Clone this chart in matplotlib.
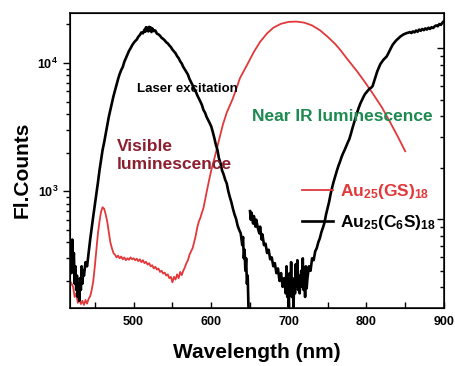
import math
import matplotlib
matplotlib.use('Agg')
import matplotlib.pyplot as plt
from matplotlib.ticker import LogLocator, FuncFormatter, MultipleLocator, NullFormatter

plt.rcParams['font.family'] = ['Liberation Sans', 'DejaVu Sans']
plt.rcParams['font.weight'] = 'bold'
plt.rcParams['mathtext.fontset'] = 'custom'
plt.rcParams['mathtext.rm'] = 'Liberation Sans:bold'
plt.rcParams['mathtext.bf'] = 'Liberation Sans:bold'
plt.rcParams['mathtext.default'] = 'rm'

# Au25(C6S)18, first part (laser line region)
wl_c6s_a = [418, 419, 420, 421, 422, 423, 424, 425, 426, 427, 428, 429, 430, 431, 432, 433, 434, 435,
            436, 438, 440, 442, 444, 446, 448, 450, 452, 454, 456, 458, 460, 462, 464, 466, 468, 470,
            472, 474, 476, 478, 480, 482, 484, 486, 488, 490, 492, 494, 496, 498, 500, 502, 504, 506,
            508, 510, 512, 514, 515, 516, 517, 518, 519, 520, 521, 522, 523, 524, 526, 528, 530, 532,
            534, 536, 538, 540, 542, 544, 546, 548, 550, 552, 554, 556, 558, 560, 562, 564, 566, 568,
            570, 572, 574, 576, 578, 580, 582, 584, 586, 588, 590, 592, 594, 596, 598, 600, 602, 604,
            606, 608, 610, 612, 614, 616, 618, 620, 622, 624, 626, 628, 630, 632, 634, 636, 638, 640,
            641, 642, 643, 644, 645, 646, 647, 648]
cnt_c6s_a = [250, 380, 230, 420, 260, 330, 190, 260, 170, 220, 150, 190, 140, 210, 170, 260, 190, 240,
             220, 280, 260, 330, 420, 520, 640, 780, 940, 1170, 1450, 1750, 2100, 2400, 2800, 3300, 3800, 4300,
             4900, 5500, 6100, 6800, 7500, 8200, 8800, 9300, 10200, 10900, 11700, 12400, 13000, 13700, 14300, 14800, 15200, 16000,
             16500, 17300, 17000, 18200, 17500, 19000, 17800, 18800, 17600, 19100, 17900, 18900, 17400, 18600, 17700, 17900, 16900, 16700,
             16300, 15700, 15400, 15000, 14500, 14200, 13700, 13300, 12700, 12300, 11900, 11300, 10900, 10300, 9900, 9300, 8900, 8500,
             8100, 7500, 7100, 6700, 6300, 6000, 5600, 5300, 5000, 4700, 4300, 4100, 3800, 3600, 3400, 3200, 2900, 2600,
             2300, 2100, 1800, 1650, 1450, 1350, 1230, 1150, 1000, 900, 820, 730, 660, 610, 540, 500, 470, 380,
             440, 300, 350, 240, 300, 190, 220, 125]

# Au25(C6S)18, second part
wl_c6s_b = [650, 651, 652, 654, 655, 657, 658, 660, 662, 663, 665, 666, 668, 670, 672, 674, 676, 678,
            680, 682, 684, 686, 688, 690, 692, 694, 696, 697, 698, 699, 700, 701, 702, 703, 704, 705,
            706, 707, 708, 709, 710, 711, 712, 713, 714, 716, 717, 718, 719, 720, 721, 722, 723, 724,
            726, 728, 730, 732, 734, 736, 738, 740, 742, 744, 746, 748, 750, 752, 754, 756, 758, 760,
            762, 764, 766, 768, 770, 772, 774, 776, 778, 780, 782, 784, 786, 788, 790, 792, 794, 796,
            798, 800, 802, 804, 806, 808, 810, 812, 814, 816, 818, 820, 822, 824, 826, 828, 830, 832,
            834, 836, 838, 840, 842, 844, 846, 848, 850, 852, 854, 856, 858, 860, 862, 864, 866, 868,
            870, 872, 874, 876, 878, 880, 882, 884, 886, 888, 890, 892, 894, 896, 898, 900]
cnt_c6s_b = [700, 600, 680, 560, 640, 530, 600, 520, 470, 530, 420, 460, 380, 390, 330, 350, 295, 305,
             260, 275, 230, 250, 200, 230, 180, 210, 160, 260, 150, 200, 125, 230, 170, 280, 150, 210,
             125, 200, 160, 270, 180, 290, 170, 220, 160, 240, 180, 300, 170, 220, 150, 260, 175, 210,
             260, 240, 300, 290, 340, 360, 400, 430, 480, 520, 570, 660, 740, 830, 960, 1080, 1200, 1320,
             1450, 1580, 1700, 1850, 1980, 2100, 2250, 2400, 2550, 2800, 3100, 3400, 3750, 4100, 4450, 4800, 5100, 5400,
             5700, 5900, 6100, 6300, 6400, 6600, 7200, 7900, 8600, 9200, 9800, 10200, 10600, 10900, 11200, 11800, 12500, 13200,
             13900, 14400, 14900, 15300, 15700, 16100, 16400, 16700, 16900, 17100, 17200, 17400, 17100, 17600, 17300, 17900, 17500, 18200,
             17800, 18400, 18000, 18600, 18200, 18800, 18400, 19000, 18700, 19300, 19600, 19300, 20100, 19800, 20600, 21200]

# Au25(GS)18
wl_gs = [418, 420, 422, 424, 426, 428, 430, 432, 434, 436, 438, 440, 442, 444, 446, 448, 450, 452,
         454, 456, 458, 460, 462, 464, 466, 468, 470, 472, 474, 476, 478, 480, 482, 484, 486, 488,
         490, 492, 494, 496, 498, 500, 502, 504, 506, 508, 510, 512, 514, 516, 518, 520, 522, 524,
         526, 528, 530, 532, 534, 536, 538, 540, 542, 544, 546, 548, 550, 552, 554, 556, 558, 560,
         562, 564, 566, 568, 570, 572, 574, 576, 578, 580, 582, 584, 586, 588, 590, 592, 594, 596,
         598, 600, 603, 606, 610, 615, 620, 628, 637, 646, 655, 663, 672, 680, 690, 700, 710, 720,
         730, 740, 750, 760, 766, 775, 788, 798, 808, 820, 830, 840, 850]
cnt_gs = [200, 190, 180, 150, 160, 135, 145, 132, 140, 130, 142, 133, 145, 152, 170, 200, 260, 350,
          470, 580, 690, 750, 730, 660, 580, 480, 400, 360, 330, 320, 305, 315, 300, 310, 295, 305,
          290, 300, 292, 305, 295, 300, 290, 298, 285, 295, 280, 290, 275, 282, 268, 275, 260, 265,
          250, 258, 245, 250, 235, 240, 228, 232, 220, 225, 210, 215, 195, 215, 205, 225, 210, 235,
          222, 240, 255, 275, 290, 320, 340, 360, 400, 450, 520, 580, 620, 680, 740, 850, 980, 1120,
          1280, 1450, 1700, 2000, 2500, 3300, 4100, 5300, 7600, 9600, 12200, 14600, 17000, 18800, 20200, 20900, 21000, 20600,
          19600, 18000, 16000, 14000, 12700, 10800, 8600, 7100, 5800, 4500, 3500, 2700, 2050]

x_major = [500, 600, 700, 800, 900]

red = '#e2383a'

fig = plt.figure(figsize=(4.55, 3.66), dpi=100)
ax = fig.add_axes([70/455, 58/366, 374/455, 295/366])

l_gs, = ax.plot(wl_gs, cnt_gs, color=red, lw=1.3, label=r'Au$_{25}$(GS)$_{18}$')
l_c6s, = ax.plot(wl_c6s_a, cnt_c6s_a, color='black', lw=1.9, label=r'Au$_{25}$(C$_6$S)$_{18}$')
ax.plot(wl_c6s_b, cnt_c6s_b, color='black', lw=1.9)

ax.set_yscale('log')
ax.set_xlim(418, 900)
ax.set_ylim(123, 24500)

ax.set_xticks(x_major)
ax.xaxis.set_minor_locator(MultipleLocator(50))
ax.yaxis.set_major_locator(LogLocator(base=10))
ax.yaxis.set_minor_locator(LogLocator(base=10, subs=range(2, 10)))
ax.yaxis.set_major_formatter(FuncFormatter(lambda v, p: r'$10^{%d}$' % round(math.log10(v))))
ax.yaxis.set_minor_formatter(NullFormatter())
ax.tick_params(axis='y', which='both', direction='out', right=False, labelsize=9)
ax.tick_params(axis='y', which='major', length=5, width=1)
ax.tick_params(axis='y', which='minor', length=3, width=1)
ax.tick_params(axis='x', which='both', direction='in', top=False, labelsize=9, pad=6)
ax.tick_params(axis='x', which='major', length=4, width=1)
ax.tick_params(axis='x', which='minor', length=4, width=1)
for s in ax.spines.values():
    s.set_linewidth(1.1)

# right axis (separate log scale, ticks only)
ax2 = ax.twinx()
ax2.set_yscale('log')
ax2.set_ylim(10**2.48, 10**4.205)
ax2.yaxis.set_minor_locator(LogLocator(base=10, subs=range(2, 10)))
ax2.yaxis.set_major_formatter(NullFormatter())
ax2.yaxis.set_minor_formatter(NullFormatter())
ax2.tick_params(axis='y', which='both', direction='in', labelright=False)
ax2.tick_params(axis='y', which='major', length=5, width=1)
ax2.tick_params(axis='y', which='minor', length=3, width=1)

ax.text(504, 6300, 'Laser excitation', fontsize=9.5, color='black', va='center', ha='left')
ax.text(653, 3800, 'Near IR luminescence', fontsize=12.5, color='#1e8a50', va='center', ha='left')
ax.text(478, 1890, 'Visible\nluminescence', fontsize=12.5, color='#8c1f2f', va='center', ha='left',
        linespacing=1.25)

leg = ax.legend(handles=[l_gs, l_c6s], loc='center left', bbox_to_anchor=(0.6195, 0.343),
                frameon=False, fontsize=12.5, handlelength=1.8, handletextpad=0.4,
                borderpad=0, borderaxespad=0, labelspacing=0.7, labelcolor='linecolor')

fig.text(257/455, 1 - 353/366, 'Wavelength (nm)', fontsize=15, ha='center', va='center')
fig.text(22/455, 1 - 170/366, 'Fl.Counts', fontsize=15, rotation=90, ha='center', va='center')

fig.savefig('out.png', dpi=100)
